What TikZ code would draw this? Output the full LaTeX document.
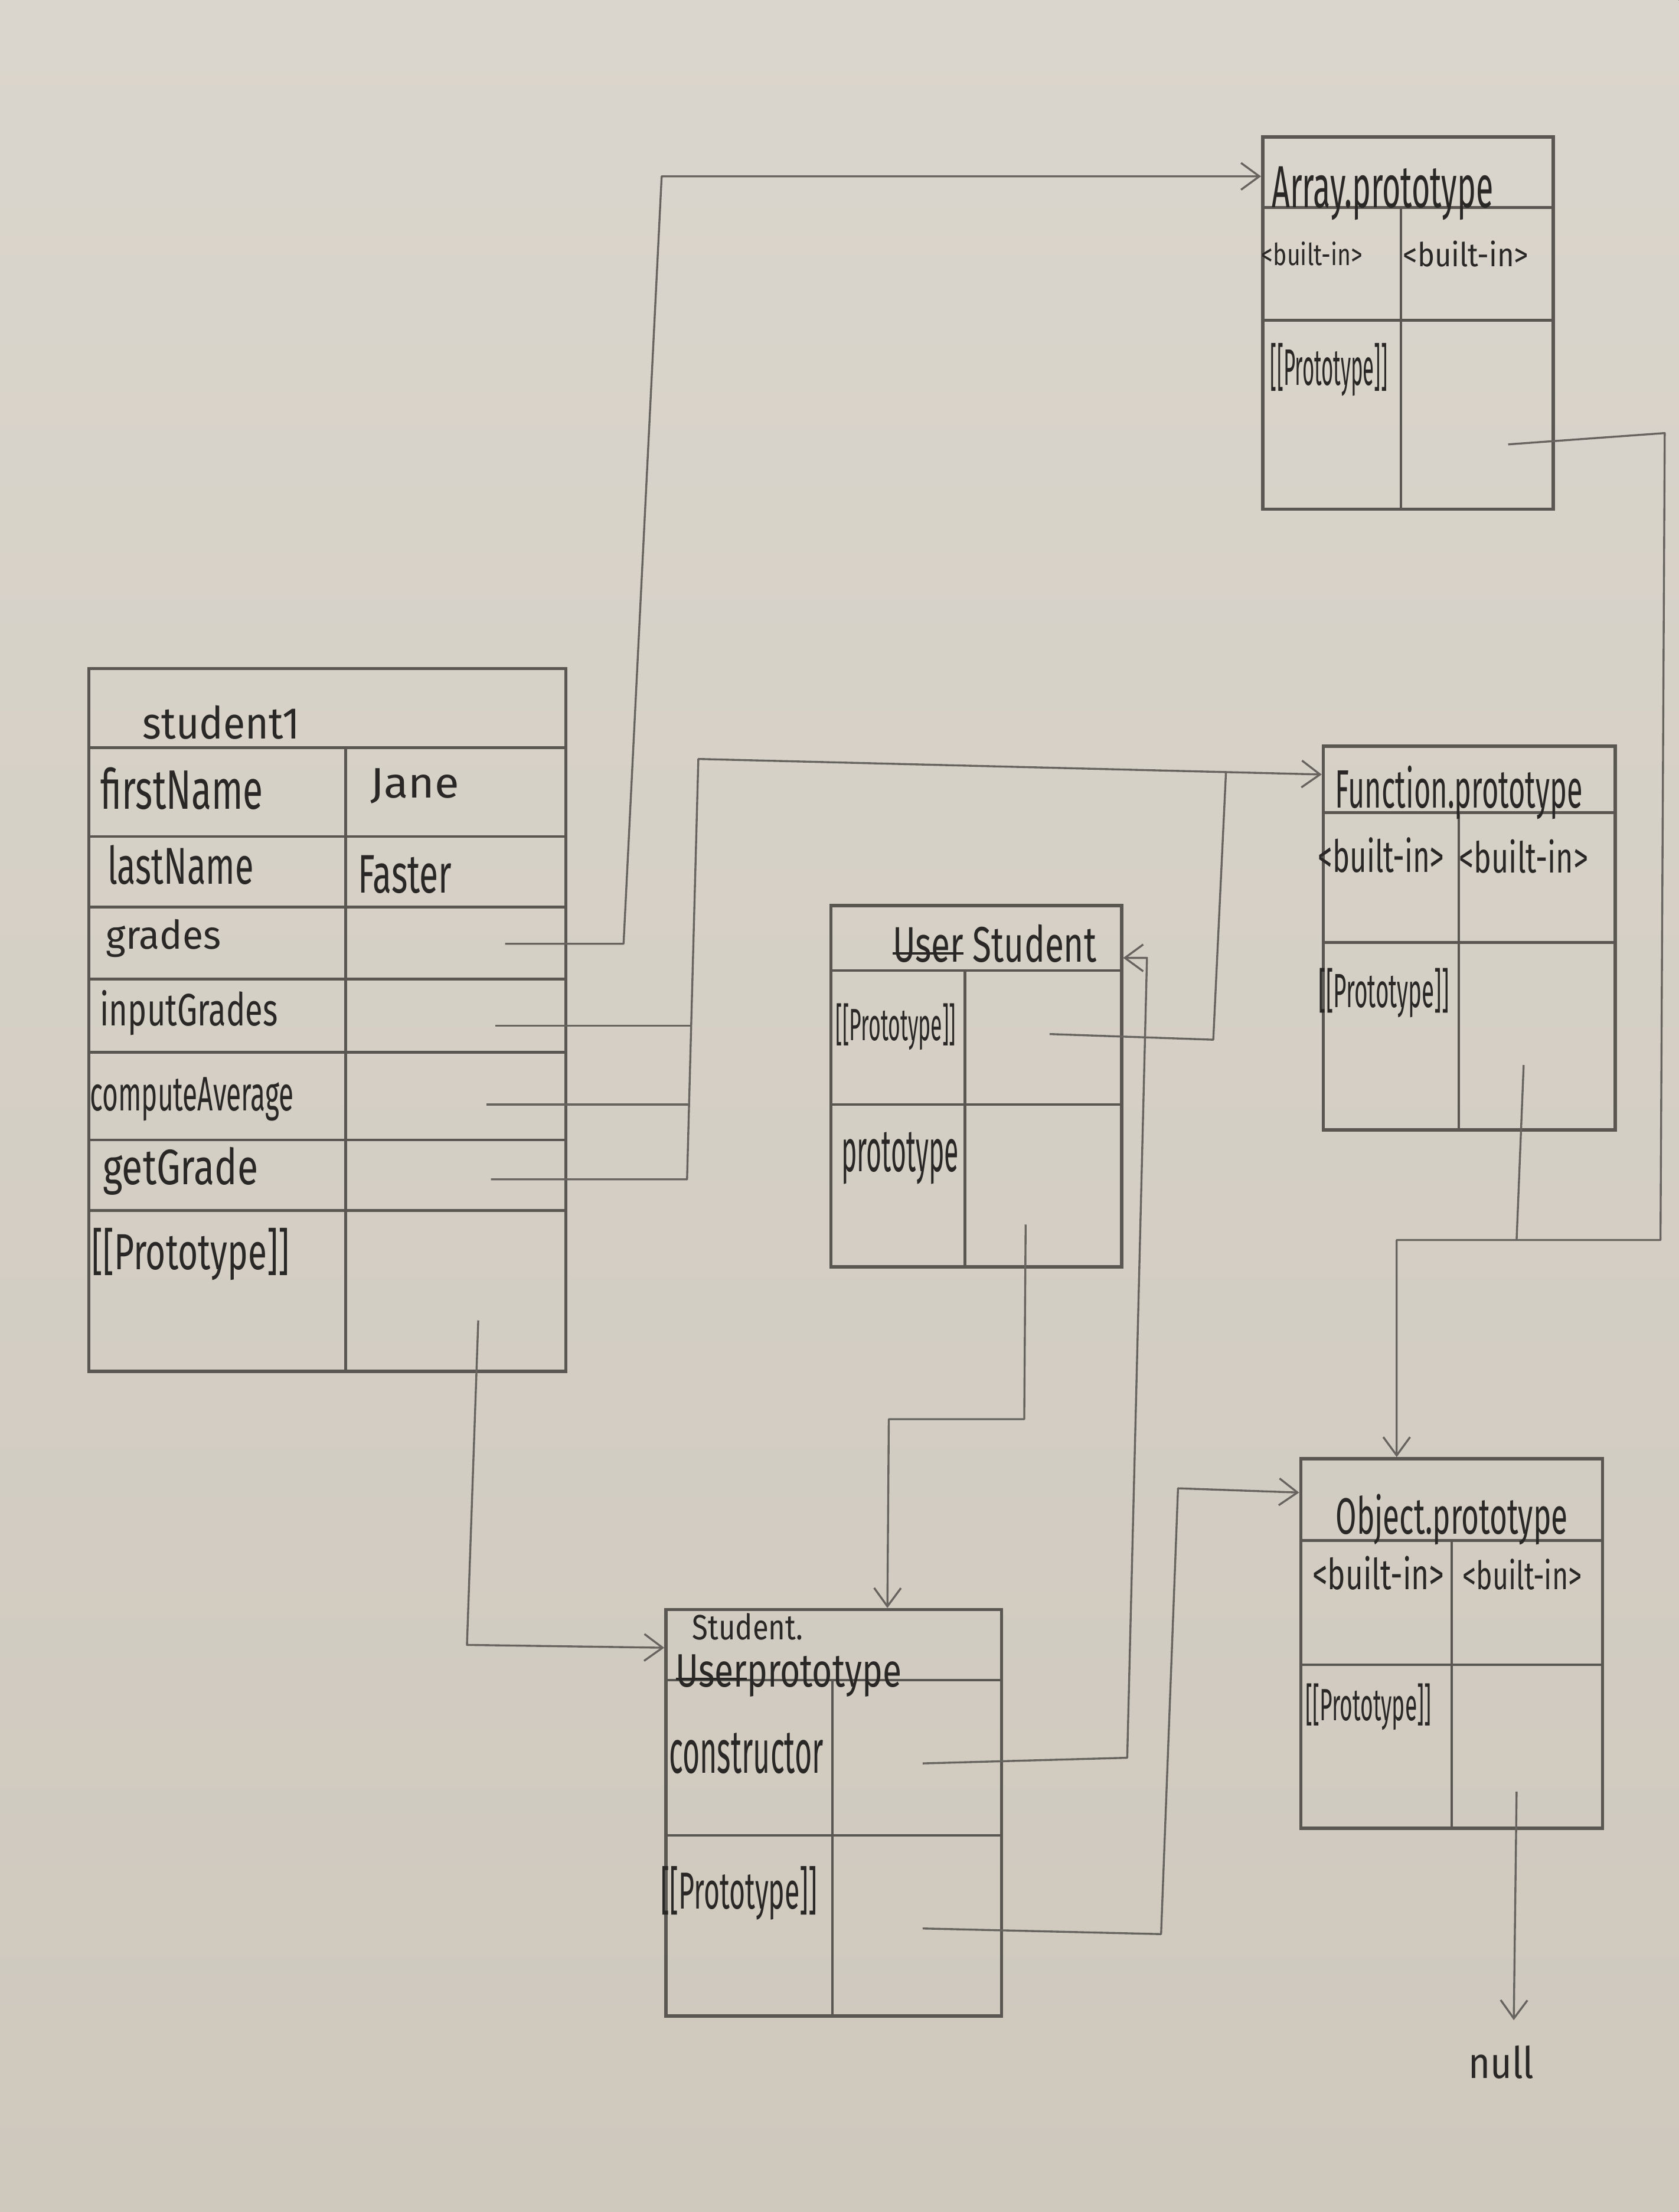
\documentclass[tikz,border=0pt]{standalone}
\usepackage{fontspec}
\setmainfont{Fira Sans}
\usetikzlibrary{arrows.meta,fit}
\definecolor{paperA}{HTML}{DBD6CD}
\definecolor{paperB}{HTML}{CEC8BD}
\definecolor{pencil}{HTML}{5A5752}
\definecolor{pencilL}{HTML}{676460}
\definecolor{ink}{HTML}{2A2826}
\newcommand{\fw}[3]{\resizebox*{#1mm}{#2mm}{#3}}
\newsavebox{\strkbox}
\newcommand{\strk}[1]{\sbox{\strkbox}{#1}\rlap{\rule[0.28ex]{\wd\strkbox}{0.09ex}}\usebox{\strkbox}}
\tikzset{
  box/.style={draw=pencil, line width=1.3pt, inner sep=0pt},
  cell/.style={draw=pencil, line width=1.1pt},
  conn/.style={draw=pencilL, line width=0.8pt, line join=round},
  ptr/.style={conn, -{Straight Barb[length=2.6mm,width=3.8mm]}},
  lab/.style={inner sep=0pt, text=ink},
}
\begin{document}
\begin{tikzpicture}[x=0.2mm,y=-0.2mm]
\useasboundingbox (0,0) rectangle (1190,1568);
\fill[top color=paperA, bottom color=paperB] (0,0) rectangle (1190,1568);

% ---------- student1 ----------
\node[box, fit={(63,474) (401,972)}] (s1) {};
\foreach \yy in {530,593,643,694,746,808,858} \draw[cell] (63,\yy) -- (401,\yy);
\draw[cell] (245,530) -- (245,972);
\node[lab] (s1t)  at (157,512) {\fw{22.3}{4.8}{student1}};
\node[lab] (s1a)  at (129,559) {\fw{23}{6}{firstName}};
\node[lab] (s1av) at (294,557) {\fw{12.6}{5}{Jane}};
\node[lab] (s1b)  at (128,613) {\fw{20.7}{5.6}{lastName}};
\node[lab] (s1bv) at (287,620) {\fw{13.3}{5.4}{Faster}};
\node[lab] (s1c)  at (116,665) {\fw{16.3}{5.4}{grades}};
\node[lab] (s1d)  at (134,718) {\fw{25.2}{6.4}{inputGrades}};
\node[lab] (s1e)  at (136,779) {\fw{28.9}{6.2}{computeAverage}};
\node[lab] (s1f)  at (128,830) {\fw{22}{6.8}{getGrade}};
\node[lab] (s1g)  at (135,889) {\fw{28}{7.4}{[[Prototype]]}};

% ---------- Array.prototype ----------
\node[box, fit={(895,97) (1101,361)}] (arr) {};
\draw[cell] (895,147) -- (1101,147);
\draw[cell] (895,227) -- (1101,227);
\draw[cell] (993,147) -- (993,361);
\node[lab] (arrt) at (980,137) {\fw{31.4}{7.6}{Array.prototype}};
\node[lab] (arra) at (930,180) {\fw{14.3}{3.4}{<built-in>}};
\node[lab] (arrb) at (1039,180) {\fw{17.8}{3.7}{<built-in>}};
\node[lab] (arrc) at (942,262) {\fw{16.6}{7.5}{[[Prototype]]}};

% ---------- Function.prototype ----------
\node[box, fit={(938,529) (1145,801)}] (fun) {};
\draw[cell] (938,576) -- (1145,576);
\draw[cell] (938,668) -- (1145,668);
\draw[cell] (1034,576) -- (1034,801);
\node[lab] (funt) at (1034,562) {\fw{35.1}{7.6}{Function.prototype}};
\node[lab] (funa) at (979,606) {\fw{17.9}{5}{<built-in>}};
\node[lab] (funb) at (1080,607) {\fw{18.3}{4.8}{<built-in>}};
\node[lab] (func) at (981,704) {\fw{18.5}{7}{[[Prototype]]}};

% ---------- Student (class) ----------
\node[box, fit={(589,642) (795,898)}] (us) {};
\draw[cell] (589,688) -- (795,688);
\draw[cell] (589,783) -- (795,783);
\draw[cell] (684,688) -- (684,898);
\node[lab] (ust) at (705,669) {\fw{28.9}{5.4}{\strk{User} Student}};
\node[lab] (usa) at (635,728) {\fw{17}{6.6}{[[Prototype]]}};
\node[lab] (usb) at (638,821) {\fw{16.6}{7.4}{prototype}};

% ---------- Student.prototype ----------
\node[box, fit={(472,1141) (710,1429)}] (sp) {};
\draw[cell] (472,1191) -- (710,1191);
\draw[cell] (472,1301) -- (710,1301);
\draw[cell] (590,1191) -- (590,1429);
\node[lab] (spt1) at (530,1153) {\fw{15.7}{3.8}{Student.}};
\node[lab] (spt2) at (559,1188) {\fw{32}{6}{\strk{User}prototype}};
\node[lab] (spa)  at (529,1243) {\fw{21.9}{5.8}{constructor}};
\node[lab] (spb)  at (524,1342) {\fw{22.2}{7.6}{[[Prototype]]}};

% ---------- Object.prototype ----------
\node[box, fit={(922,1034) (1136,1296)}] (obj) {};
\draw[cell] (922,1092) -- (1136,1092);
\draw[cell] (922,1180) -- (1136,1180);
\draw[cell] (1029,1092) -- (1029,1296);
\node[lab] (objt) at (1029,1077) {\fw{32.9}{7.2}{Object.prototype}};
\node[lab] (obja) at (977,1115) {\fw{18.7}{4.8}{<built-in>}};
\node[lab] (objb) at (1079,1116) {\fw{16.9}{4.4}{<built-in>}};
\node[lab] (objc) at (970,1210) {\fw{17.8}{6.6}{[[Prototype]]}};

\node[lab] (null) at (1064,1462) {\fw{9.3}{4.7}{null}};

% ---------- connector end points ----------
\coordinate (cGrades) at (358,669);
\coordinate (cInput)  at (351,727);
\coordinate (cComp)   at (345,783);
\coordinate (cGet)    at (348,836);
\coordinate (cS1P)    at (339,936);
\coordinate (cUsP)    at (744,733);
\coordinate (cUsProto) at (727,868);
\coordinate (cCtor)   at (654,1250);
\coordinate (cSpP)    at (654,1367);
\coordinate (cArrP)   at (1069,315);
\coordinate (cFunP)   at (1080,755);
\coordinate (cObjP)   at (1075,1270);
\coordinate (cNull)   at (1073,1432);

% grades -> Array.prototype
\draw[ptr] (cGrades) -- (442,669) -- (469,125) -- (arr.west |- 0,125);
% methods -> Function.prototype
\draw[ptr] (cGet) -- (487,836) -- (495,538) -- (fun.west |- 0,549);
\draw[conn] (cInput) -- (490,727);
\draw[conn] (cComp) -- (488.5,783);
% Student [[Prototype]] -> Function.prototype
\draw[conn] (cUsP) -- (860,737) -- (869,547.3);
% student1 [[Prototype]] -> Student.prototype
\draw[ptr] (cS1P) -- (331,1166) -- (sp.west |- 0,1168);
% Student.prototype property -> Student.prototype
\draw[ptr] (cUsProto) -- (726,1006) -- (630,1006) -- (629,0 |- sp.north);
% constructor -> Student
\draw[ptr] (cCtor) -- (799,1246) -- (813,679) -- (us.east |- 0,679);
% Student.prototype [[Prototype]] -> Object.prototype
\draw[ptr] (cSpP) -- (823,1371) -- (835,1055) -- (obj.west |- 0,1058);
% Array / Function [[Prototype]] -> Object.prototype
\draw[ptr] (cArrP) -- (1180,307) -- (1177,879) -- (990,879) -- (990,0 |- obj.north);
\draw[conn] (cFunP) -- (1075,879);
% Object.prototype [[Prototype]] -> null
\draw[ptr] (cObjP) -- (cNull);
\end{tikzpicture}
\end{document}
